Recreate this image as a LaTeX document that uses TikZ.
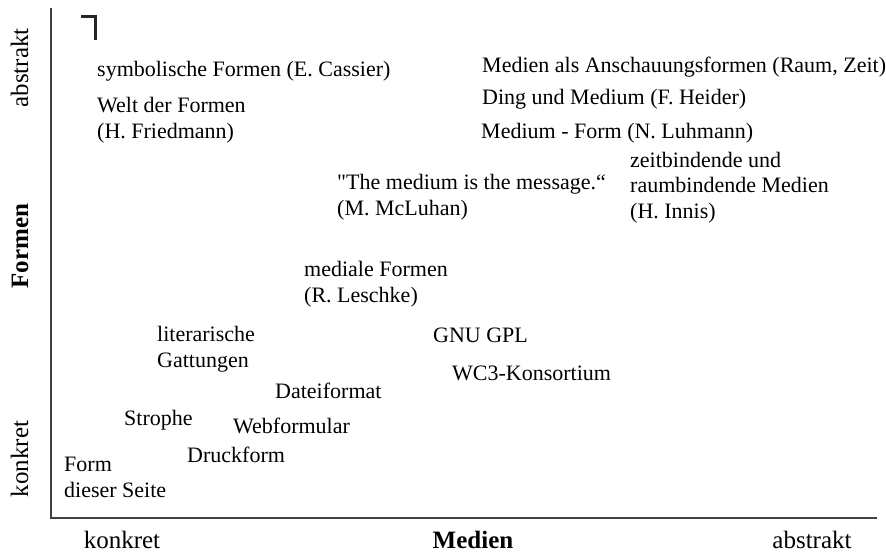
\documentclass[tikz,border=0pt]{standalone}
\usepackage{fontspec}
\setmainfont{Liberation Serif}
\usepackage{tikz}

\begin{document}
\begin{tikzpicture}[x=1pt,y=-1pt,
  eintrag/.style={anchor=base west,align=left,inner sep=0pt,
    font=\fontsize{22}{25.5}\selectfont},
  achse/.style={anchor=base,inner sep=0pt,font=\fontsize{25}{28}\selectfont},
  titel/.style={achse,font=\fontsize{25}{28}\selectfont\bfseries}]
\useasboundingbox (0,0) rectangle (886,554);
\fill[white] (0,0) rectangle (886,554);
% Achsen
\coordinate (oben) at (51,8);
\coordinate (ursprung) at (51,518);
\coordinate (rechts) at (877,518);
\draw[line width=1.5pt,black!75] (oben) -- (ursprung) -- (rechts);
\draw[line width=3pt,black!85] (81,16) -- (95,16) -- (95,40);
% Achsenbeschriftung
\node[achse,rotate=90] (abstraktY) at (28,68) {abstrakt};
\node[titel,rotate=90] (formenY) at (28,246) {Formen};
\node[achse,rotate=90] (konkretY) at (28,459) {konkret};
\node[achse] (konkretX) at (122,548) {konkret};
\node[titel] (medienX) at (473,548) {Medien};
\node[achse] (abstraktX) at (812,548) {abstrakt};
% Eintraege (mehrzeilig: Grundlinie der letzten Zeile)
\node[eintrag] (cassirer) at (97,76) {symbolische Formen (E. Cassier)};
\node[eintrag] (friedmann) at (97,138) {Welt der Formen\\(H. Friedmann)};
\node[eintrag] (anschauung) at (482,72) {Medien als Anschauungsformen (Raum, Zeit)};
\node[eintrag] (heider) at (482,104) {Ding und Medium (F. Heider)};
\node[eintrag] (luhmann) at (481,138) {Medium - Form (N. Luhmann)};
\node[eintrag] (innis) at (630,218) {zeitbindende und\\raumbindende Medien\\(H. Innis)};
\node[eintrag] (mcluhan) at (337,215) {\textquotedbl The medium is the message.“\\(M. McLuhan)};
\node[eintrag] (leschke) at (304,302) {mediale Formen\\(R. Leschke)};
\node[eintrag] (gpl) at (433,342) {GNU GPL};
\node[eintrag] (gattungen) at (157,367) {literarische\\Gattungen};
\node[eintrag] (wc3) at (452,380) {WC3-Konsortium};
\node[eintrag] (dateiformat) at (275,398) {Dateiformat};
\node[eintrag] (strophe) at (124,425) {Strophe};
\node[eintrag] (webformular) at (233,433) {Webformular};
\node[eintrag] (druckform) at (187,462) {Druckform};
\node[eintrag] (seite) at (64,497) {Form\\dieser Seite};
\end{tikzpicture}
\end{document}
